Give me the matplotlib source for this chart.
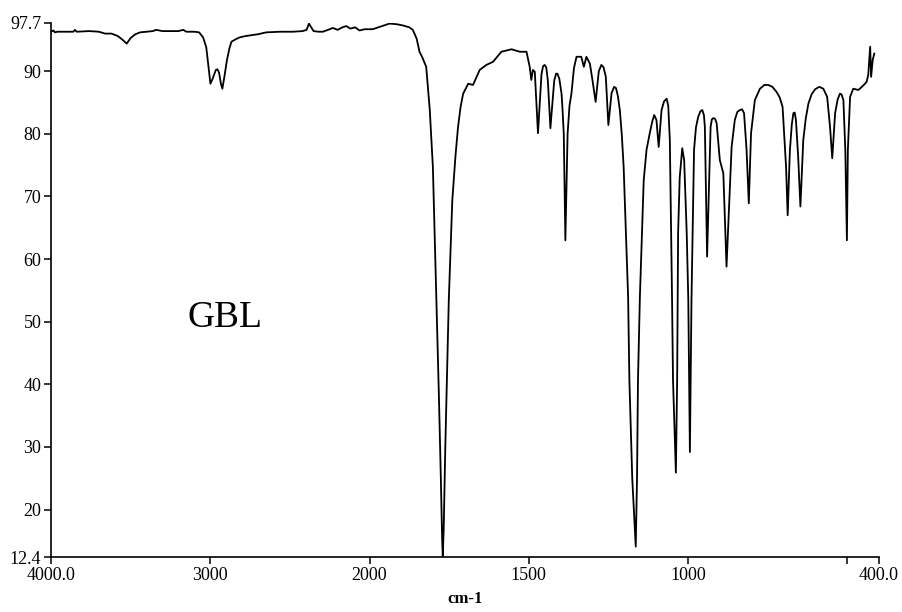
import numpy as np
import matplotlib
matplotlib.use('Agg')
import matplotlib.pyplot as plt

# IR spectrum of GBL (wavenumber cm-1, %T)
# 4000-1850: flat part with the C-H bands
wn_high = [4000, 3985, 3975, 3960, 3900, 3860, 3850, 3840, 3760, 3700,
           3660, 3620, 3580, 3550, 3525, 3500, 3470, 3440, 3400, 3360,
           3340, 3300, 3200, 3170, 3150, 3100, 3070, 3045, 3025, 3010,
           2999, 2985, 2965, 2955, 2945, 2933, 2924, 2912, 2895, 2880,
           2867, 2840, 2815, 2780, 2752, 2700, 2648, 2560, 2480, 2420,
           2395, 2380, 2366, 2351, 2320, 2293, 2260, 2230, 2200, 2170,
           2146, 2120, 2090, 2063, 2030, 1990, 1960, 1937, 1915, 1895,
           1875, 1864]
tr_high = [96.3, 96.5, 96.2, 96.3, 96.3, 96.3, 96.6, 96.3, 96.4, 96.3,
           96.0, 96.0, 95.6, 95.0, 94.4, 95.3, 95.9, 96.2, 96.3, 96.4,
           96.6, 96.4, 96.4, 96.6, 96.3, 96.3, 96.2, 95.4, 93.8, 90.5,
           88.0, 88.8, 90.2, 90.3, 89.8, 88.0, 87.2, 89.0, 91.8, 93.6,
           94.7, 95.1, 95.4, 95.6, 95.7, 95.9, 96.2, 96.3, 96.3, 96.4,
           96.6, 97.6, 97.0, 96.4, 96.3, 96.3, 96.6, 96.9, 96.6, 97.0,
           97.2, 96.8, 97.0, 96.5, 96.7, 96.7, 97.2, 97.6, 97.5, 97.3,
           97.0, 96.6]

# carbonyl band and the hump after it
wn_co = [1852, 1843, 1835, 1822, 1811, 1801, 1790, 1782, 1776, 1772,
         1770, 1767, 1762, 1756, 1751, 1740, 1730, 1722, 1714, 1706,
         1690, 1675, 1654, 1633, 1612, 1586, 1554, 1528, 1507]
tr_co = [95.2, 93.1, 92.3, 90.7, 84.0, 74.7, 53.5, 38.0, 25.0, 15.5,
         12.6, 17.0, 30.0, 43.0, 53.5, 69.4, 76.5, 81.1, 84.3, 86.4,
         88.0, 87.8, 90.2, 91.0, 91.5, 93.1, 93.5, 93.1, 93.1]

# 1500-1200
wn_mid = [1497, 1492, 1487, 1481, 1471, 1460, 1455, 1450, 1445, 1440,
          1432, 1420, 1414, 1410, 1404, 1397, 1394, 1390, 1385, 1378,
          1372, 1366, 1358, 1350, 1335, 1327, 1319, 1308, 1300, 1290,
          1280, 1272, 1265, 1258, 1250, 1240, 1232, 1226, 1220, 1214,
          1208, 1202]
tr_mid = [90.7, 88.6, 90.2, 89.9, 80.1, 89.5, 90.8, 91.0, 90.6, 88.5,
          80.9, 88.5, 89.6, 89.6, 88.8, 86.4, 84.0, 80.0, 63.0, 80.0,
          84.5, 86.4, 90.5, 92.3, 92.3, 90.7, 92.3, 91.2, 88.6, 85.1,
          90.0, 91.0, 90.6, 89.1, 81.4, 86.5, 87.5, 87.3, 86.0, 83.8,
          80.0, 74.7]

# 1200-870: strong C-O bands
wn_co2 = [1188, 1184, 1175, 1164, 1160, 1157, 1151, 1139, 1130, 1120,
          1112, 1106, 1099, 1092, 1083, 1075, 1067, 1062, 1057, 1050,
          1047, 1038, 1034, 1031, 1026, 1018, 1012, 1004, 999, 994,
          989, 981, 975, 968, 961, 955, 950, 947, 940, 929,
          925, 921, 915, 910, 900, 889, 879]
tr_co2 = [54.0, 40.7, 25.0, 14.1, 25.0, 40.7, 54.0, 72.6, 77.5, 80.1,
          82.0, 83.0, 82.2, 77.9, 83.8, 85.2, 85.6, 84.5, 79.0, 53.5,
          40.7, 25.9, 40.7, 64.2, 73.0, 77.7, 75.8, 64.2, 53.5, 29.2,
          53.5, 77.4, 81.0, 82.7, 83.6, 83.8, 83.0, 81.1, 60.4, 81.1,
          82.3, 82.5, 82.4, 81.7, 75.8, 73.7, 58.8]

# 870-415
wn_low = [863, 853, 845, 837, 830, 824, 816, 809, 802, 790,
          774, 760, 748, 735, 722, 712, 703, 692, 687, 680,
          674, 669, 665, 661, 654, 647, 638, 630, 622, 612,
          601, 588, 575, 563, 554, 547, 538, 530, 523, 518,
          512, 506, 501, 498, 491, 481, 465, 454, 444, 439,
          434, 428, 425, 420, 415]
tr_low = [77.9, 82.2, 83.5, 83.8, 83.9, 83.3, 77.4, 68.9, 80.1, 85.4,
          87.2, 87.8, 87.8, 87.5, 86.7, 85.8, 84.3, 74.7, 67.0, 77.4,
          81.5, 83.3, 83.4, 82.2, 76.3, 68.4, 79.0, 82.5, 84.8, 86.3,
          87.1, 87.5, 87.2, 85.9, 81.1, 76.1, 83.3, 85.5, 86.4, 86.3,
          85.4, 77.4, 63.0, 77.4, 85.9, 87.2, 87.0, 87.5, 88.0, 88.3,
          89.4, 93.9, 89.1, 91.8, 92.8]

wavenumber = wn_high + wn_co + wn_mid + wn_co2 + wn_low
transmittance = tr_high + tr_co + tr_mid + tr_co2 + tr_low

xticks = [4000, 3000, 2000, 1500, 1000, 500, 400]
xlabels = ['4000.0', '3000', '2000', '1500', '1000', '', '400.0']
yticks = [12.4, 20, 30, 40, 50, 60, 70, 80, 90, 97.7]
ylabels = ['12.4', '20', '30', '40', '50', '60', '70', '80', '90', '97.7']


# scale halves above 2000 cm-1
def fwd(w):
    w = np.asarray(w, dtype=float)
    return np.where(w > 2000, 2000 + (w - 2000) / 2.0, w)


def inv(u):
    u = np.asarray(u, dtype=float)
    return np.where(u > 2000, 2000 + (u - 2000) * 2.0, u)


plt.rcParams['font.family'] = ['Liberation Serif', 'DejaVu Serif']

fig = plt.figure(figsize=(9.03, 6.12), dpi=100)
ax = fig.add_axes([0.0565, 0.0895, 0.917, 0.873])
ax.set_xscale('function', functions=(fwd, inv))
ax.plot(wavenumber, transmittance, color='black', lw=1.3)
ax.set_xlim(4000, 400)
ax.set_ylim(12.4, 97.7)

ax.set_xticks(xticks)
ax.set_xticklabels(xlabels)
ax.set_yticks(yticks)
ax.set_yticklabels(ylabels)
ax.minorticks_off()
ax.tick_params(axis='both', labelsize=13, length=5, width=1.1, direction='out', pad=2)

for s in ['top', 'right']:
    ax.spines[s].set_visible(False)
for s in ['left', 'bottom']:
    ax.spines[s].set_linewidth(1.2)

ax.set_xlabel('cm-1', fontsize=12, fontweight='bold', labelpad=5)
ax.text(3141, 49.2, 'GBL', fontsize=27, ha='left', va='baseline')

fig.savefig('out.png', dpi=100)
